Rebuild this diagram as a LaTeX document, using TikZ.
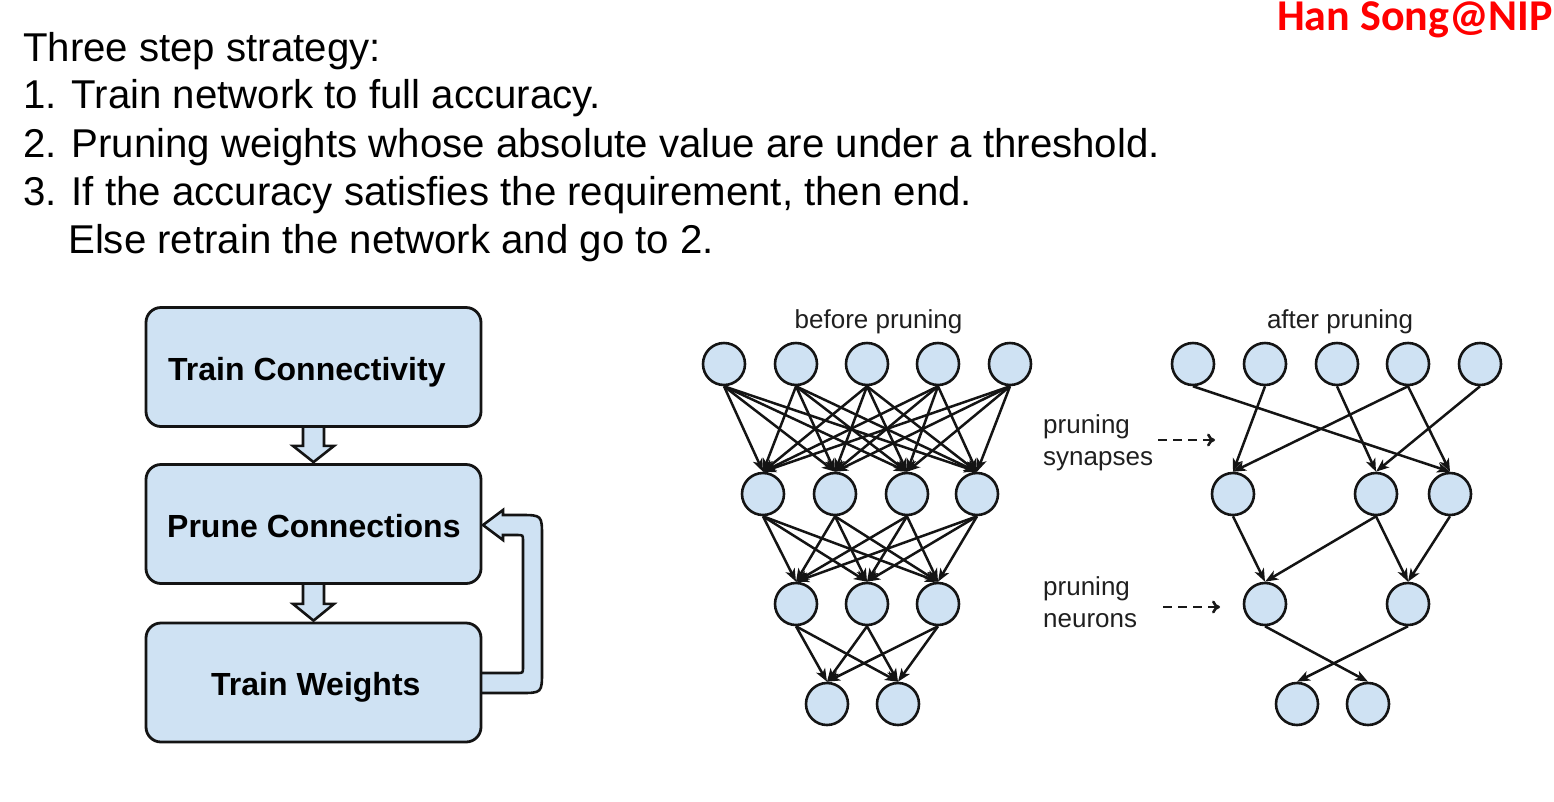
\documentclass[tikz,border=0pt]{standalone}
\usepackage{fontspec}
\setmainfont{Liberation Sans}
\newfontfamily\calibri{Carlito}
\usetikzlibrary{arrows.meta,calc,backgrounds}
\definecolor{nodeblue}{HTML}{CFE2F3}
\definecolor{lineblk}{HTML}{141414}
\definecolor{hanred}{HTML}{FF0000}
\begin{document}
\begin{tikzpicture}[x=1pt,y=-1pt,
 neuron/.style={circle,draw=lineblk,line width=2.6pt,fill=nodeblue,minimum size=42pt,inner sep=0pt},
 syn/.style={draw=lineblk,line width=2.5pt,-{Stealth[length=13pt,width=10pt,inset=3.5pt]}},
 flowbox/.style={draw=lineblk,line width=2.8pt,fill=nodeblue,rounded corners=15pt,minimum width=335pt,minimum height=119pt,inner sep=0pt},
 flowtext/.style={font=\bfseries\fontsize{32}{38}\selectfont,anchor=base west,inner sep=0pt},
 blockarrow/.style={draw=lineblk,line width=2.6pt,fill=nodeblue,line join=miter},
 maintext/.style={font=\fontsize{40.2}{48}\selectfont,anchor=base west,inner sep=0pt},
 netlabel/.style={font=\fontsize{26}{32}\selectfont,text=black!88,inner sep=0pt},
 dasharrow/.style={draw=black!90,line width=2.6pt,dash pattern=on 9pt off 6pt,-{To[length=8pt,width=13pt]}}
]
\useasboundingbox (0,0) rectangle (1554,801);

% header text
\node[maintext] (l0) at (23,61) {Three step strategy:};
\node[maintext] (l1) at (23,108) {1. Train network to full accuracy.};
\node[maintext] (l2) at (23,157) {2. Pruning weights whose absolute value are under a threshold.};
\node[maintext] (l3) at (23,205) {3. If the accuracy satisfies the requirement, then end.};
\node[maintext] (l4) at (68,253) {Else retrain the network and go to 2.};
\node[font=\calibri\bfseries\fontsize{44}{50}\selectfont,text=hanred,anchor=base east,inner sep=0pt] (hs) at (1553,30) {Han Song@NIP};

% flow chart
\node[flowbox] (b1) at (313.5,367) {};
\node[flowbox] (b2) at (313.5,524) {};
\node[flowbox] (b3) at (313.5,682.5) {};
\node[flowtext] (t1) at (168,380) {Train Connectivity};
\node[flowtext] (t2) at (167,537) {Prune Connections};
\node[flowtext] (t3) at (211,695) {Train Weights};

\begin{scope}[on background layer]
\draw[blockarrow] ($(b1.south)+(-10.5,-2)$) -- ++(0,20) -- ++(-10,0) -- ($(b2.north)+(0,-1)$)
  -- ($(b1.south)+(20.5,18)$) -- ++(-10,0) -- ++(0,-20) -- cycle;
\draw[blockarrow] ($(b2.south)+(-10.5,-2)$) -- ++(0,21) -- ++(-10,0) -- ($(b3.north)+(0,-1)$)
  -- ($(b2.south)+(20.5,19)$) -- ++(-10,0) -- ++(0,-21) -- cycle;
\draw[blockarrow] (475,693) -- (520,693) .. controls (542,693) .. (542,671) -- (542,537)
  .. controls (542,515) .. (520,515) -- (503,515) -- (503,510) -- (483,525) -- (503,540)
  -- (503,535) -- (517,535) .. controls (523,535) .. (523,541) -- (523,667)
  .. controls (523,673) .. (517,673) -- (475,673) -- cycle;
\end{scope}

% labels
\node[netlabel,anchor=base] (lbefore) at (878.5,328) {before pruning};
\node[netlabel,anchor=base] (lafter) at (1340,328) {after pruning};
\node[netlabel,anchor=base west] (ps1) at (1043,433) {pruning};
\node[netlabel,anchor=base west] (ps2) at (1043,465) {synapses};
\node[netlabel,anchor=base west] (pn1) at (1043,595) {pruning};
\node[netlabel,anchor=base west] (pn2) at (1043,627) {neurons};
\coordinate (da1) at (1158,440);
\coordinate (da2) at (1215,440);
\coordinate (db1) at (1163,607);
\coordinate (db2) at (1220,607);
\draw[dasharrow] (da1) -- (da2);
\draw[dasharrow] (db1) -- (db2);

% before pruning network
\foreach \x [count=\i] in {724,796,867,938,1010} \node[neuron] (bt\i) at (\x,364) {};
\foreach \x [count=\i] in {763,835,907,977} \node[neuron] (bs\i) at (\x,494) {};
\foreach \x [count=\i] in {796,867,938} \node[neuron] (bh\i) at (\x,604) {};
\foreach \x [count=\i] in {827,898} \node[neuron] (bo\i) at (\x,704) {};
\foreach \i in {1,...,5} \foreach \j in {1,...,4} \draw[syn] (bt\i.south) -- (bs\j.north);
\foreach \i in {1,...,4} \foreach \j in {1,...,3} \draw[syn] (bs\i.south) -- (bh\j.north);
\foreach \i in {1,...,3} \foreach \j in {1,2} \draw[syn] (bh\i.south) -- (bo\j.north);

% after pruning network
\foreach \x [count=\i] in {1193,1265,1337,1408,1480} \node[neuron] (at\i) at (\x,364) {};
\node[neuron] (as1) at (1233,494) {};
\node[neuron] (as3) at (1376,494) {};
\node[neuron] (as4) at (1450,494) {};
\node[neuron] (ah1) at (1265,604) {};
\node[neuron] (ah3) at (1408,604) {};
\node[neuron] (ao1) at (1297,704) {};
\node[neuron] (ao2) at (1368,704) {};
\draw[syn] (at1.south) -- (as4.north);
\draw[syn] (at2.south) -- (as1.north);
\draw[syn] (at3.south) -- (as3.north);
\draw[syn] (at4.south) -- (as1.north);
\draw[syn] (at4.south) -- (as4.north);
\draw[syn] (at5.south) -- (as3.north);
\draw[syn] (as1.south) -- (ah1.north);
\draw[syn] (as3.south) -- (ah1.north);
\draw[syn] (as3.south) -- (ah3.north);
\draw[syn] (as4.south) -- (ah3.north);
\draw[syn] (ah1.south) -- (ao2.north);
\draw[syn] (ah3.south) -- (ao1.north);
\end{tikzpicture}
\end{document}
